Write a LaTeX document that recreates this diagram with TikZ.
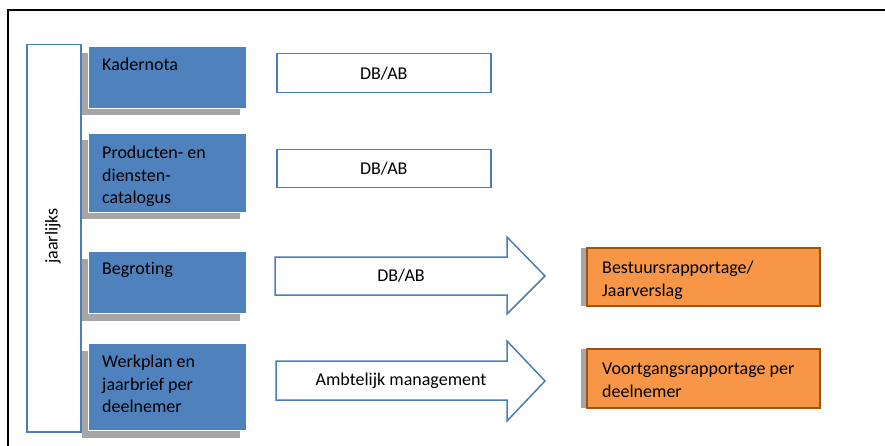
\documentclass[tikz,border=0pt]{standalone}
\usepackage{fontspec}
\setmainfont{Carlito}[Ligatures=NoCommon]
\usetikzlibrary{positioning,shadows}
\definecolor{blokblauw}{HTML}{4F81BD}
\definecolor{lijnblauw}{HTML}{4A7EBB}
\definecolor{oranje}{HTML}{F79646}
\definecolor{oranjerand}{HTML}{A0520F}
\definecolor{schaduw}{HTML}{A6A6A6}
\tikzset{
  tekstfont/.style={font=\fontsize{18}{22.5}\selectfont},
  blok/.style={fill=blokblauw, draw=white, line width=1pt, anchor=north west, minimum width=158, drop shadow={shadow xshift=-7pt, shadow yshift=-7pt, fill=schaduw, opacity=1}},
  rapport/.style={fill=oranje, draw=oranjerand, line width=1.5pt, anchor=north west, minimum width=233, drop shadow={shadow xshift=-6pt, shadow yshift=0pt, fill=schaduw, opacity=1}},
  wit/.style={fill=white, draw=lijnblauw, line width=1.5pt, anchor=north west, minimum width=214, tekstfont},
  pijl/.style={fill=white, draw=lijnblauw, line width=1.5pt, line join=miter},
  bloktekst/.style={tekstfont, align=left, inner sep=0pt, anchor=north west}
}
\begin{document}
\begin{tikzpicture}[x=1pt, y=-1pt]
\useasboundingbox (0,0) rectangle (885,446);
% kader
\draw[line width=1.6pt] (8,446) -- (8,10) -- (885,10);
% jaarlijks
\node[draw=lijnblauw, line width=1.5pt, anchor=north west, minimum width=54, minimum height=387] (jaar) at (26,44) {};
\node[tekstfont, rotate=90] (jaartekst) at (53,236) {jaarlijks};
% blauwe blokken
\node[blok, minimum height=62] (kader) at (88,46) {};
\node[bloktekst, below right=12pt and 14pt of kader.north west] (kadertekst) {Kadernota};
\node[blok, minimum height=79] (pdc) at (88,133) {};
\node[bloktekst, below right=13pt and 14pt of pdc.north west] (pdctekst) {Producten- en\\diensten-\\catalogus};
\node[blok, minimum height=62] (begr) at (88,251) {};
\node[bloktekst, below right=11pt and 14pt of begr.north west] (begrtekst) {Begroting};
\node[blok, minimum height=87] (werk) at (88,343) {};
\node[bloktekst, below right=12pt and 14pt of werk.north west] (werktekst) {Werkplan en\\jaarbrief per\\deelnemer};
% DB/AB
\node[wit, minimum height=39] (dbab1) at (276,53) {DB/AB};
\node[wit, minimum height=38] (dbab2) at (276,149) {DB/AB};
% pijlen
\draw[pijl] (275,257) -- (507,257) -- (507,237) -- (545,276) -- (507,314) -- (507,295) -- (275,295) -- cycle;
\node[tekstfont] (pijl1) at (401,276) {DB/AB};
\draw[pijl] (276,361) -- (507,361) -- (507,341) -- (545,381) -- (507,421) -- (507,400) -- (276,400) -- cycle;
\node[tekstfont] (pijl2) at (401,381) {Ambtelijk management};
% oranje blokken
\node[rapport, minimum height=58] (bestuur) at (586,247) {};
\node[bloktekst, below right=14pt and 16pt of bestuur.north west] (bestuurtekst) {Bestuursrapportage/\\Jaarverslag};
\node[rapport, minimum height=59] (voortgang) at (586,348) {};
\node[bloktekst, below right=15pt and 16pt of voortgang.north west] (voortgangtekst) {Voortgangsrapportage per\\deelnemer};
\end{tikzpicture}
\end{document}
